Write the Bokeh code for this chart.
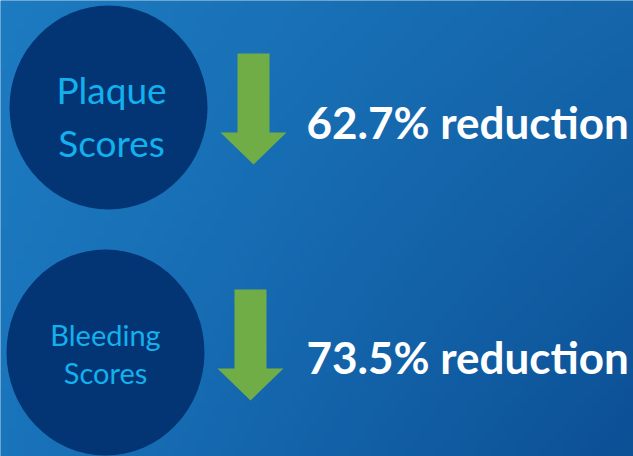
import numpy as np
from bokeh.plotting import figure
from bokeh.models import ColumnDataSource, Range1d
from bokeh.core.properties import value
from bokeh.embed import file_html
from bokeh.resources import INLINE

# ---- data ----
metrics = ["Plaque", "Bleeding"]
metric_line2 = ["Scores", "Scores"]
reductions = [62.7, 73.5]
reduction_labels = [f"{v}% reduction" for v in reductions]

# ---- layout (pixel-like coordinates, y grows downward) ----
W, H = 633, 456
circle_x = [108, 105]
circle_y = [107, 352]
circle_w = [198, 198]
circle_h = [204, 206]
line1_y = [89, 334]
line2_y = [142, 372]
line_x = [111, 105]
label_size = ["37px", "29px"]
arrow_cx = [253, 250]
arrow_top = [53, 289]
arrow_neck = [132, 368]
arrow_tip = [164, 400]
shaft_half = 16
head_half = 33
value_x = 306
value_base = [121, 356]

p = figure(width=W, height=H, output_backend="svg", toolbar_location=None,
           x_range=Range1d(0, W), y_range=Range1d(H, 0),
           min_border=0, min_border_left=0, min_border_right=0,
           min_border_top=0, min_border_bottom=0)
p.axis.visible = False
p.grid.visible = False
p.outline_line_color = None
p.background_fill_color = "#1770b5"
p.border_fill_color = "#1770b5"

# background gradient
ny, nx = 60, 80
tl = np.array([29, 123, 193]); tr = np.array([21, 102, 171])
bl = np.array([26, 116, 187]); br = np.array([12, 80, 150])
img = np.empty((ny, nx), dtype=np.uint32)
view = img.view(dtype=np.uint8).reshape((ny, nx, 4))
for i in range(ny):
    fy = i / (ny - 1)
    for j in range(nx):
        fx = j / (nx - 1)
        c = (1 - fx) * (1 - fy) * tl + fx * (1 - fy) * tr + (1 - fx) * fy * bl + fx * fy * br
        view[i, j, 0:3] = c.astype(np.uint8)
        view[i, j, 3] = 255
p.image_rgba(image=[img], x=0, y=0, dw=W, dh=H)

# circles
p.ellipse(x=circle_x, y=circle_y, width=circle_w, height=circle_h,
          fill_color="#033574", line_color=None)

# circle texts
for k in range(len(metrics)):
    for txt, yy in ((metrics[k], line1_y[k]), (metric_line2[k], line2_y[k])):
        p.text(x=[line_x[k]], y=[yy], text=[txt], text_align="center",
               text_baseline="alphabetic", text_color="#13b0ee",
               text_font=value("Lato"), text_font_size=label_size[k])

# arrows
xs, ys = [], []
for k in range(len(metrics)):
    cx = arrow_cx[k]
    xs.append([cx - shaft_half, cx + shaft_half, cx + shaft_half, cx + head_half,
               cx, cx - head_half, cx - shaft_half])
    ys.append([arrow_top[k], arrow_top[k], arrow_neck[k], arrow_neck[k],
               arrow_tip[k], arrow_neck[k], arrow_neck[k]])
p.patches(xs=xs, ys=ys, fill_color="#70ad47", line_color=None)

# reduction labels
src = ColumnDataSource(dict(x=[value_x] * len(reductions), y=value_base, t=reduction_labels))
p.text(x="x", y="y", text="t", source=src, text_align="left",
       text_baseline="alphabetic", text_color="white",
       text_font=value("Lato"), text_font_style="bold", text_font_size="44px")

html = file_html(p, INLINE)
html = html.replace("<head>", "<head><style>html,body{margin:0;padding:0;overflow:hidden}</style>", 1)
open("out.html", "w").write(html)
